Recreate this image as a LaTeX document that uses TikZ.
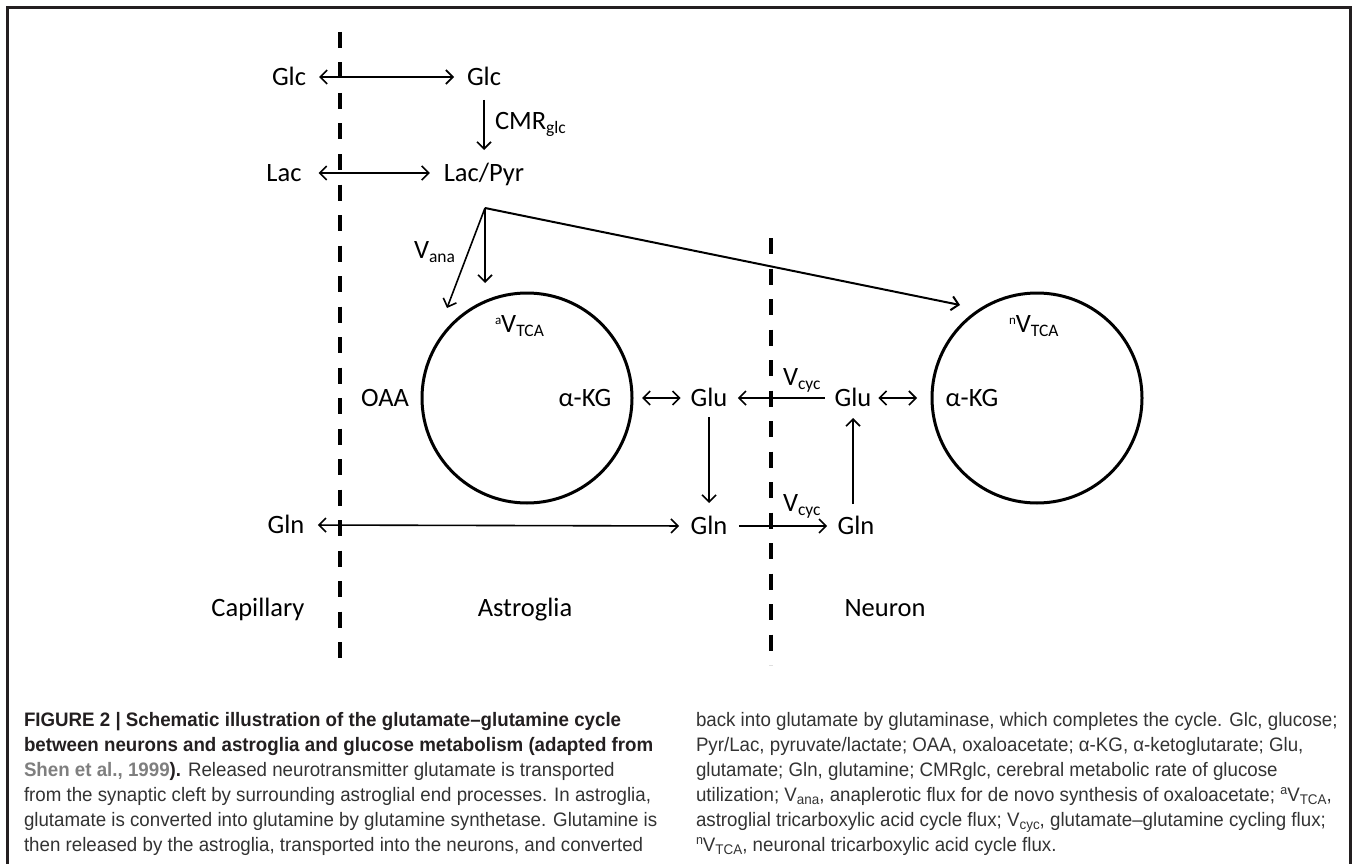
\documentclass[tikz,border=0pt]{standalone}
\usepackage{fontspec}
\setmainfont{Carlito}
\newfontfamily\capfont[FakeStretch=0.96]{Liberation Sans}
\usetikzlibrary{arrows.meta,calc}
\newcommand\lsub[1]{\raisebox{-4pt}{\fontsize{17.5}{18}\selectfont #1}}
\newcommand\lsup[1]{\raisebox{8pt}{\fontsize{13}{14}\selectfont #1}}
\newcommand\csub[1]{\raisebox{-3.5pt}{\fontsize{14}{15}\selectfont #1}}
\newcommand\csup[1]{\raisebox{7pt}{\fontsize{13}{14}\selectfont #1}}
\definecolor{framecol}{HTML}{231F20}
\definecolor{captext}{HTML}{333333}
\definecolor{linkgray}{HTML}{7F7F7F}
\begin{document}
\begin{tikzpicture}[x=1pt,y=-1pt,
  lbl/.style={inner sep=0pt, outer sep=0pt, text height=17pt, text depth=0pt, font=\fontsize{26.5}{30}\selectfont},
  tip/.style={Straight Barb[length=7pt,width=14pt]},
  conn/.style={line width=1.6pt, -{Straight Barb[length=7pt,width=14pt]}},
  bi/.style={line width=1.6pt, {Straight Barb[length=7pt,width=14pt]}-{Straight Barb[length=7pt,width=14pt]}},
  cyc/.style={circle, draw, line width=3pt, minimum size=210pt, inner sep=0pt, outer sep=0pt},
  membrane/.style={line width=4.5pt, dash pattern=on 16pt off 14.5pt},
  capline/.style={anchor=base west, inner sep=0pt, outer sep=0pt, font=\capfont\fontsize{19.5}{25}\selectfont, text=captext},
  capbold/.style={anchor=base west, inner sep=0pt, outer sep=0pt, font=\capfont\bfseries\fontsize{19.5}{25}\selectfont, text=framecol},
]
\useasboundingbox (0,0) rectangle (1354,864);
\fill[white] (0,0) rectangle (1354,864);
% frame
\draw[framecol, line width=3pt] (7,866) -- (7,8) -- (1350,8) -- (1350,866);

% membranes
\coordinate (m1top) at (340,32);
\coordinate (m1bot) at (340,662);
\coordinate (m2top) at (771,238);
\coordinate (m2bot) at (771,665);
\draw[membrane] (m1top) -- (m1bot);
\draw[membrane] (m2top) -- (m2bot);

% labels
\node[lbl] (glcL) at (289,77) {Glc};
\node[lbl] (glcR) at (484,77) {Glc};
\node[lbl] (lacL) at (284,173) {Lac};
\node[lbl] (lacpyr) at (484,173) {Lac/Pyr};
\node[lbl, anchor=west] (cmr) at (495,120.5) {CMR\lsub{glc}};
\coordinate (br) at (485,208);
\node[lbl, anchor=east] (vana) at (455,250) {V\lsub{ana}};
\node[cyc] (astro) at (527,398) {};
\node[cyc] (neur) at (1037,398) {};
\node[lbl, anchor=west] (atca) at (495,324) {\lsup{a}V\lsub{TCA}};
\node[lbl, anchor=west] (ntca) at (1009,324) {\lsup{n}V\lsub{TCA}};
\node[lbl] (oaa) at (385,398) {OAA};
\node[lbl] (akgA) at (585,398) {α-KG};
\node[lbl] (gluA) at (709,398) {Glu};
\node[lbl] (gluN) at (853,398) {Glu};
\node[lbl] (akgN) at (972,398) {α-KG};
\node[lbl] (glnL) at (286,525) {Gln};
\node[lbl] (glnA) at (709,526) {Gln};
\node[lbl] (glnN) at (856,526) {Gln};
\node[lbl, anchor=west] (vcyc1) at (783,377) {V\lsub{cyc}};
\node[lbl, anchor=west] (vcyc2) at (783,503) {V\lsub{cyc}};
\node[lbl] (capl) at (258,608) {Capillary};
\node[lbl] (astl) at (525,608) {Astroglia};
\node[lbl] (neul) at (885,608) {Neuron};

% connectors
\draw[bi, shorten <=13pt, shorten >=13pt] (glcL.east) -- (glcR.west);
\draw[bi, shorten <=17pt, shorten >=14pt] (lacL.east) -- (lacpyr.west);
\draw[conn, shorten <=14.5pt, shorten >=14.5pt] (glcR.south) -- (lacpyr.north);
\draw[conn, shorten >=10pt] (br) -- (br |- astro.north);
\coordinate (vanatip) at (447,308);
\draw[conn] (br) -- (vanatip);
\coordinate (ntip) at (960,305);
\draw[line width=2pt, -{Straight Barb[length=7pt,width=14pt]}] (br) -- (ntip);
\draw[bi, shorten <=10pt, shorten >=10pt] (astro.east) -- (gluA.west);
\draw[conn, shorten <=10pt, shorten >=10.5pt] (gluN.west) -- (gluA.east);
\draw[bi, shorten <=7pt, shorten >=15pt] (gluN.east) -- (neur.west);
\draw[conn, shorten <=10.5pt, shorten >=14.5pt] (gluA.south) -- (gluA.south |- glnA.north);
\draw[conn, shorten <=11.5pt, shorten >=10.5pt] (glnA.east) -- (glnN.west);
\draw[conn, shorten <=13.5pt, shorten >=11.5pt] (gluN.south |- glnN.north) -- (gluN.south);
\draw[bi, shorten <=13.5pt, shorten >=11.5pt] (glnL.east) -- (glnA.west);

% caption, left column
\node[capbold] (cl1) at (24,726) {FIGURE 2 | Schematic illustration of the glutamate–glutamine cycle};
\node[capbold] (cl2) at (24,751) {between neurons and astroglia and glucose metabolism (adapted from};
\node[capline] (cl3) at (24,776) {\textbf{\color{linkgray}Shen et al., 1999}\textbf{\color{framecol}).} Released neurotransmitter glutamate is transported};
\node[capline] (cl4) at (24,801) {from the synaptic cleft by surrounding astroglial end processes. In astroglia,};
\node[capline] (cl5) at (24,826) {glutamate is converted into glutamine by glutamine synthetase. Glutamine is};
\node[capline] (cl6) at (24,851) {then released by the astroglia, transported into the neurons, and converted};
% caption, right column
\node[capline] (cr1) at (696,726) {back into glutamate by glutaminase, which completes the cycle. Glc, glucose;};
\node[capline] (cr2) at (696,751) {Pyr/Lac, pyruvate/lactate; OAA, oxaloacetate; α-KG, α-ketoglutarate; Glu,};
\node[capline] (cr3) at (696,776) {glutamate; Gln, glutamine; CMRglc, cerebral metabolic rate of glucose};
\node[capline] (cr4) at (696,801) {utilization; V\csub{ana}, anaplerotic flux for de novo synthesis of oxaloacetate; \csup{a}V\csub{TCA},};
\node[capline] (cr5) at (696,826) {astroglial tricarboxylic acid cycle flux; V\csub{cyc}, glutamate–glutamine cycling flux;};
\node[capline] (cr6) at (696,851) {\csup{n}V\csub{TCA}, neuronal tricarboxylic acid cycle flux.};
\end{tikzpicture}
\end{document}
